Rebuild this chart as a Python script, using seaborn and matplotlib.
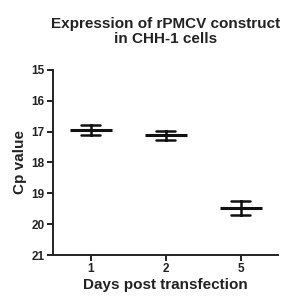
import matplotlib
matplotlib.use("Agg")
import matplotlib.pyplot as plt
import seaborn as sns
import pandas as pd

days = ["1", "2", "5"]
cp_mean = [16.95, 17.12, 19.48]
cp_sem = [0.16, 0.14, 0.22]
yticks = [15, 16, 17, 18, 19, 20, 21]

# table of lower/upper bounds so seaborn computes mean and range
rows = []
for d, m, s in zip(days, cp_mean, cp_sem):
    rows.append({"day": d, "cp": m - s})
    rows.append({"day": d, "cp": m + s})
df = pd.DataFrame(rows)

sns.set_style("ticks")
plt.rcParams["font.family"] = ["Liberation Sans", "DejaVu Sans"]
plt.rcParams["font.weight"] = "bold"

fig = plt.figure(figsize=(2.83, 2.98), dpi=100)
ax = fig.add_axes([0.187, 0.144, 0.797, 0.622])

sns.pointplot(data=df, x="day", y="cp", order=days, estimator="mean",
              errorbar=lambda v: (v.min(), v.max()), capsize=0.25,
              linestyle="none", marker="_", markersize=30, markeredgewidth=2.2,
              color="#111111", err_kws={"linewidth": 1.8}, ax=ax)

ax.set_ylim(21, 15)
ax.set_xlim(-0.5, 2.5)
ax.set_yticks(yticks)
ax.set_yticklabels([str(t) for t in yticks], fontsize=8.5, fontweight="bold", color="#222222")
ax.set_xticks(range(len(days)))
ax.set_xticklabels(days, fontsize=8.5, fontweight="bold", color="#222222")
ax.tick_params(axis="both", length=4, width=1.4, color="#222222", pad=2)
for s in ["left", "bottom"]:
    ax.spines[s].set_linewidth(1.4)
    ax.spines[s].set_color("#222222")
sns.despine(ax=ax)
ax.set_xlabel("Days post transfection", fontsize=11, fontweight="bold", labelpad=2, color="#222222")
ax.set_ylabel("Cp value", fontsize=11, fontweight="bold", labelpad=3, color="#222222")
ax.set_title("Expression of rPMCV construct\nin CHH-1 cells", fontsize=11,
             fontweight="bold", pad=19, linespacing=1.15, color="#222222")

fig.savefig("out.png", dpi=100)
